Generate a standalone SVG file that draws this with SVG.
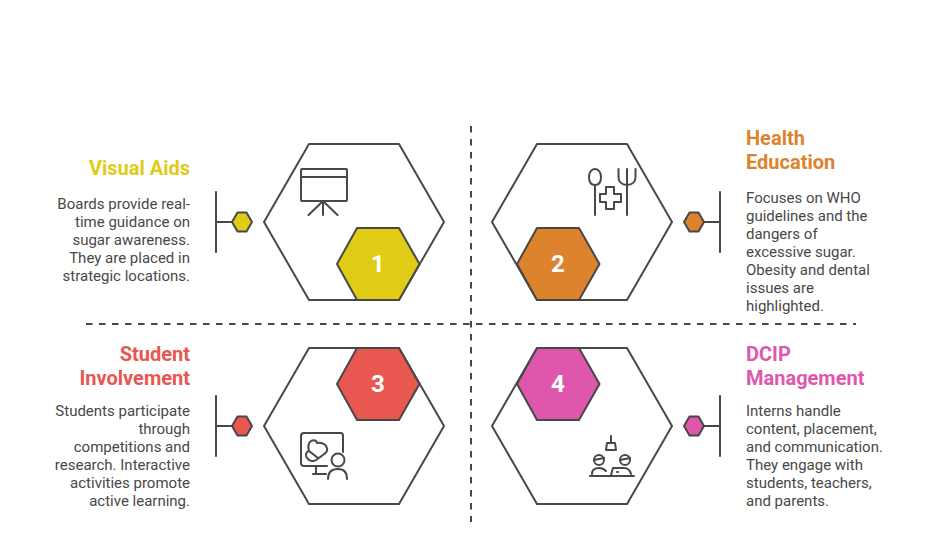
<svg xmlns="http://www.w3.org/2000/svg" width="936" height="545" viewBox="0 0 936 545">
<style>
.o{fill:none;stroke:#484848;stroke-width:2;stroke-linejoin:round;stroke-linecap:round}
.i{fill:none;stroke:#484848;stroke-width:2;stroke-linejoin:round;stroke-linecap:round}
.s{stroke:#484848;stroke-width:2;stroke-linejoin:round}
.d{fill:none;stroke:#484848;stroke-width:2;stroke-dasharray:6.5 6.5}
.n{font:700 24px Roboto,"Liberation Sans",sans-serif;fill:#fff;text-anchor:middle}
.h{font:700 20px Roboto,"Liberation Sans",sans-serif}
.t{font:400 15px Roboto,"Liberation Sans",sans-serif;fill:#484848}
.r{text-anchor:end}
</style>
<rect width="936" height="545" fill="#fff"/>
<g id="connectors">
<path class="d" d="M471 126V522"/>
<path class="d" d="M86 324H856"/>
<path class="o" d="M216 192V252M216 222H232"/>
<path class="o" d="M720 192V252M704 222H720"/>
<path class="o" d="M216 396V456M216 426H232"/>
<path class="o" d="M720 396V456M704 426H720"/>
</g>
<g id="node1">
<path class="o" d="M264 222L309 144H399L444 222L399 300H309Z"/>
<path class="s" fill="#e0cb15" d="M337 264L357 228H399L419.500 264L399 300H357Z"/>
<text class="n" x="378" y="272">1</text>
<path class="s" fill="#e0cb15" d="M232 222L237.500 212.500H246.500L252 222L246.500 231.500H237.500Z"/>
<path class="i" d="M301 170Q301 169 302 169H346Q347 169 347 170V200Q347 201 346 201H302Q301 201 301 200ZM301 177H347M323 201V215M323 201L308.500 215M323 201L337.500 215"/>
<text class="h r" x="190" y="175" fill="#e0cb15">Visual Aids</text>
<text class="t r" x="190" y="209">Boards provide real-</text>
<text class="t r" x="190" y="227">time guidance on</text>
<text class="t r" x="190" y="245">sugar awareness.</text>
<text class="t r" x="190" y="263">They are placed in</text>
<text class="t r" x="190" y="281">strategic locations.</text>
</g>
<g id="node2">
<path class="o" d="M492 222L537 144H627L672 222L627 300H537Z"/>
<path class="s" fill="#de832d" d="M517 264L537 228H579L599.500 264L579 300H537Z"/>
<text class="n" x="558" y="272">2</text>
<path class="s" fill="#de832d" d="M684 222L689.500 212.500H698.500L704 222L698.500 231.500H689.500Z"/>
<path class="i" d="M595 185V215M595 169C591 169 589 173 589 177C589 182 591 185 595 185C599 185 601 182 601 177C601 173 599 169 595 169ZM627 169V215M618.500 169V177C618.500 182 622 185 627 185C632 185 635.500 182 635.500 177V169M606 187H614V194H621V202H614V209H606V202H600V194H606Z"/>
<text class="h" x="746" y="145" fill="#de832d">Health</text>
<text class="h" x="746" y="169" fill="#de832d">Education</text>
<text class="t" x="746" y="203">Focuses on WHO</text>
<text class="t" x="746" y="221">guidelines and the</text>
<text class="t" x="746" y="239">dangers of</text>
<text class="t" x="746" y="257">excessive sugar.</text>
<text class="t" x="746" y="275">Obesity and dental</text>
<text class="t" x="746" y="293">issues are</text>
<text class="t" x="746" y="311">highlighted.</text>
</g>
<g id="node3">
<path class="o" d="M264 426L309 348H399L444 426L399 504H309Z"/>
<path class="s" fill="#e85750" d="M337 384L357 348H399L419.500 384L399 420H357Z"/>
<text class="n" x="378" y="392">3</text>
<path class="s" fill="#e85750" d="M232 426L237.500 416.500H246.500L252 426L246.500 435.500H237.500Z"/>
<path class="i" d="M327 466H304Q301 466 301 463V436Q301 433 304 433H341Q343 433 343 436V452M316 466V474M313 474H326M311 441C314 439 317 441 317 443C321 442 326 444 327 448C328 451 326 453 323 455L316 460C313 462 309 461 307 458C305 455 306 452 309 451C308 447 308 443 311 441ZM309 451L318 458"/>
<circle class="i" cx="338" cy="460" r="6.500"/>
<path class="i" d="M328 479C328 472 332 469 338 469C344 469 347 472 347 479"/>
<text class="h r" x="190" y="361" fill="#e85750">Student</text>
<text class="h r" x="190" y="385" fill="#e85750">Involvement</text>
<text class="t r" x="190" y="416">Students participate</text>
<text class="t r" x="190" y="434">through</text>
<text class="t r" x="190" y="452">competitions and</text>
<text class="t r" x="190" y="470">research. Interactive</text>
<text class="t r" x="190" y="488">activities promote</text>
<text class="t r" x="190" y="506">active learning.</text>
</g>
<g id="node4">
<path class="o" d="M492 426L537 348H627L672 426L627 504H537Z"/>
<path class="s" fill="#df57ac" d="M517 384L537 348H579L599.500 384L579 420H537Z"/>
<text class="n" x="558" y="392">4</text>
<path class="s" fill="#df57ac" d="M684 426L689.500 416.500H698.500L704 426L698.500 435.500H689.500Z"/>
<path class="i" d="M611 436V443M607 443H615L616 450H606ZM590 476H634M592 474C592 470 595 468 599 468C602 468 604 469 606 471M631 474C630 470 627 468 624 468H613L611 475"/>
<circle class="i" cx="599" cy="460" r="5"/>
<circle class="i" cx="625" cy="460" r="5"/>
<path class="i" d="M594 460L604 458M620 460L630 458M617 472H618"/>
<text class="h" x="746" y="361" fill="#df57ac">DCIP</text>
<text class="h" x="746" y="385" fill="#df57ac">Management</text>
<text class="t" x="746" y="416">Interns handle</text>
<text class="t" x="746" y="434">content, placement,</text>
<text class="t" x="746" y="452">and communication.</text>
<text class="t" x="746" y="470">They engage with</text>
<text class="t" x="746" y="488">students, teachers,</text>
<text class="t" x="746" y="506">and parents.</text>
</g>
</svg>
